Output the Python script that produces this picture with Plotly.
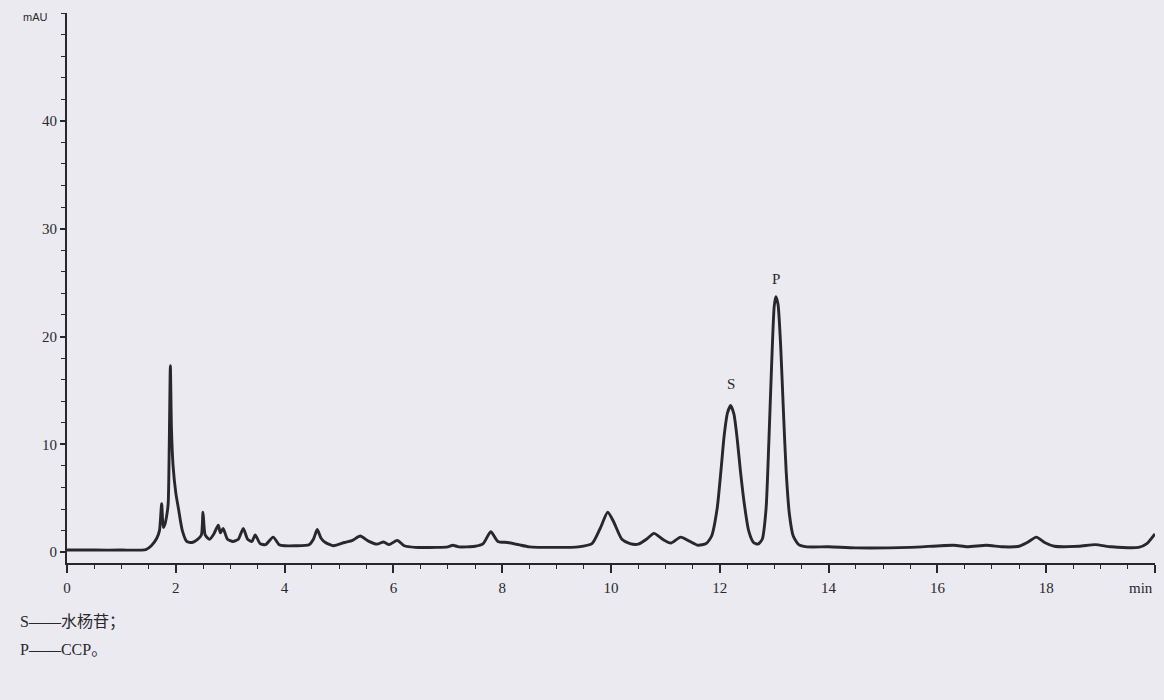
import plotly.graph_objects as go

# Chromatogram trace (retention time in min, absorbance in mAU)
time_min = [
    0.0, 0.5, 1.0, 1.45, 1.55, 1.65, 1.70, 1.74, 1.77, 1.80, 1.83, 1.86, 1.88, 1.90,
    1.92, 1.95, 2.00, 2.05, 2.12, 2.20, 2.30, 2.40, 2.47, 2.50, 2.54, 2.62, 2.70, 2.78,
    2.82, 2.87, 2.95, 3.05, 3.15, 3.24, 3.32, 3.40, 3.46, 3.55, 3.65, 3.79, 3.90, 4.00,
    4.20, 4.45, 4.53, 4.60, 4.67, 4.75, 4.90, 5.10, 5.25, 5.39, 5.55, 5.70, 5.82, 5.92,
    6.07, 6.20, 6.40, 6.80, 7.00, 7.09, 7.20, 7.50, 7.65, 7.79, 7.92, 8.10, 8.30, 8.50,
    9.00, 9.40, 9.65, 9.80, 9.94, 10.05, 10.20, 10.35, 10.50, 10.65, 10.79, 10.95, 11.10,
    11.28, 11.45, 11.60, 11.75, 11.85, 11.95, 12.02, 12.08, 12.14, 12.20, 12.26, 12.32,
    12.38, 12.45, 12.53, 12.62, 12.70, 12.78, 12.85, 12.90, 12.95, 13.00, 13.03, 13.07,
    13.12, 13.17, 13.22, 13.28, 13.35, 13.45, 13.60, 14.00, 14.50, 15.50, 16.30, 16.55,
    16.90, 17.20, 17.50, 17.65, 17.82, 17.97, 18.15, 18.60, 18.90, 19.20, 19.70, 19.85,
    20.00,
]
absorbance_mau = [
    0.2, 0.2, 0.2, 0.25, 0.6, 1.3, 2.0, 4.5, 2.3, 2.6, 3.3, 4.5, 10.0, 17.3,
    11.5, 8.0, 5.5, 4.0, 2.0, 1.0, 0.9, 1.2, 1.6, 3.7, 1.6, 1.2, 1.7, 2.5,
    1.8, 2.2, 1.2, 1.0, 1.2, 2.2, 1.2, 1.0, 1.6, 0.8, 0.7, 1.4, 0.7, 0.6,
    0.6, 0.7, 1.2, 2.1, 1.3, 0.9, 0.6, 0.9, 1.1, 1.5, 1.0, 0.75, 0.95, 0.7,
    1.1, 0.6, 0.45, 0.45, 0.5, 0.65, 0.5, 0.55, 0.8, 1.9, 1.0, 0.9, 0.7, 0.5,
    0.45, 0.5, 0.8, 2.2, 3.7, 2.8, 1.2, 0.8, 0.75, 1.2, 1.75, 1.2, 0.85,
    1.4, 1.0, 0.65, 0.8, 1.5, 4.0, 7.5, 10.8, 12.9, 13.6, 12.8, 10.5,
    7.5, 4.5, 2.0, 0.9, 0.75, 1.2, 4.0, 10.0, 17.0, 22.8, 23.7, 23.0,
    19.0, 13.0, 7.5, 3.5, 1.5, 0.7, 0.5, 0.5, 0.4, 0.45, 0.65, 0.5,
    0.65, 0.5, 0.55, 0.9, 1.4, 0.9, 0.55, 0.55, 0.7, 0.5, 0.45, 0.8,
    1.7,
]

# Peak labels
peak_names = ["S", "P"]
peak_times = [12.2, 13.03]
peak_label_heights = [15.6, 25.3]

# Axis ticks
x_tick_values = [0, 2, 4, 6, 8, 10, 12, 14, 16, 18, 20]
x_tick_labels = ["0", "2", "4", "6", "8", "10", "12", "14", "16", "18", ""]
x_unit_label = "min"
y_tick_values = [0, 10, 20, 30, 40]
y_tick_labels = ["0", "10", "20", "30", "40"]
y_unit_label = "mAU"

# Key lines under the chart
key_lines = ["S——水杨苷；", "P——CCP。"]

BG = "#ECEAF1"
INK = "#28282c"
SERIF = "Liberation Serif, DejaVu Serif, Noto Sans CJK SC, serif"

fig = go.Figure()
fig.add_trace(go.Scatter(
    x=time_min, y=absorbance_mau, mode="lines",
    line=dict(color=INK, width=2.9, shape="spline", smoothing=0.6),
    hoverinfo="x+y", showlegend=False,
))

for name, t, h in zip(peak_names, peak_times, peak_label_heights):
    fig.add_annotation(x=t, y=h, text=name, showarrow=False,
                       font=dict(family=SERIF, size=15, color=INK))

fig.add_annotation(xref="paper", yref="paper", x=-0.0294, y=0.993, xanchor="center",
                   yanchor="middle", text=y_unit_label, showarrow=False,
                   font=dict(family="Liberation Sans, Arial, sans-serif", size=11, color=INK))

fig.add_annotation(xref="paper", yref="paper", x=1.0, y=-0.045, xanchor="right",
                   yanchor="middle", text=x_unit_label, showarrow=False,
                   font=dict(family=SERIF, size=15, color=INK))

for i, line in enumerate(key_lines):
    fig.add_annotation(xref="paper", yref="paper", x=-0.045, y=-0.107 - i * 0.051,
                       xanchor="left", yanchor="middle", text=line, showarrow=False,
                       font=dict(family=SERIF, size=16, color=INK))

fig.update_layout(
    width=1164, height=700,
    margin=dict(l=67, r=9, t=13, b=137),
    paper_bgcolor=BG, plot_bgcolor=BG,
    xaxis=dict(
        range=[0, 20], showgrid=False, zeroline=False, automargin=False,
        showline=True, linecolor=INK, linewidth=2,
        tickmode="array", tickvals=x_tick_values, ticktext=x_tick_labels,
        ticks="outside", ticklen=8, tickwidth=1.5, tickcolor=INK,
        minor=dict(tickmode="linear", tick0=0, dtick=0.5, ticks="outside",
                   ticklen=4, tickwidth=1.2, tickcolor=INK),
        tickfont=dict(family=SERIF, size=15, color=INK),
        ticklabelstandoff=2,
    ),
    yaxis=dict(
        range=[-1, 50], showgrid=False, zeroline=False, automargin=False,
        showline=True, linecolor=INK, linewidth=2,
        tickmode="array", tickvals=y_tick_values, ticktext=y_tick_labels,
        ticks="outside", ticklen=5, tickwidth=1.5, tickcolor=INK,
        minor=dict(tickmode="linear", tick0=0, dtick=2, ticks="outside",
                   ticklen=4, tickwidth=1.2, tickcolor=INK),
        tickfont=dict(family=SERIF, size=15, color=INK),
    ),
)

fig.write_html(
    "out.html",
    config={"displayModeBar": False},
    post_script="document.body.style.margin='0';document.body.style.background='" + BG + "';",
)
